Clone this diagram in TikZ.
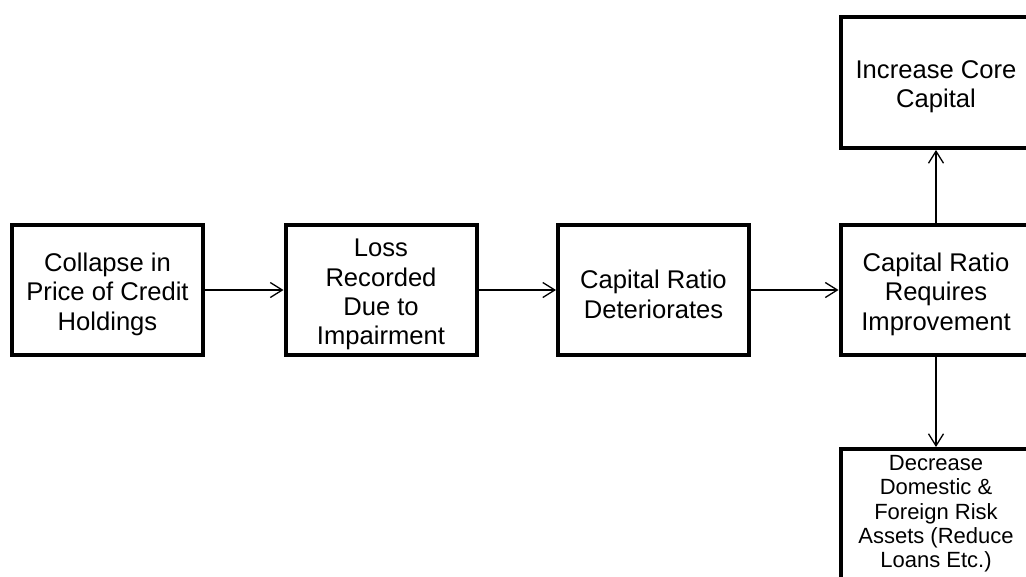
\documentclass[tikz,border=0pt]{standalone}
\usepackage{fontspec}
\setmainfont{Liberation Sans}
\usetikzlibrary{arrows.meta}
% taller first line: lowers the block of text inside its box
\newcommand{\toprule}[1]{\rule{0pt}{#1}}
\begin{document}
\begin{tikzpicture}[x=1pt,y=-1pt,
  stepbox/.style={draw=black, line width=4pt, fill=white, inner sep=0pt,
    minimum width=191pt, minimum height=130pt, align=center,
    font=\fontsize{25.6}{29.3}\selectfont},
  smallbox/.style={stepbox, font=\fontsize{22}{24.3}\selectfont},
  flow/.style={draw=black, line width=1.3pt,
    -{Straight Barb[length=12pt,width=15pt,line width=1.3pt]}}]
\useasboundingbox (0,0) rectangle (1026,576);
\clip (0,0) rectangle (1026,576);
% main chain
\node[stepbox] (collapse) at (107.5,290) {\toprule{27pt}Collapse in\\Price of Credit\\Holdings};
\node[stepbox] (loss) at (381,290) {\toprule{27pt}Loss\\Recorded\\Due to\\Impairment};
\node[stepbox] (deter) at (653.5,290) {\toprule{27pt}Capital Ratio\\Deteriorates};
\node[stepbox] (improve) at (936,290) {\toprule{27pt}Capital Ratio\\Requires\\Improvement};
% responses
\node[stepbox, minimum height=131pt] (core) at (936,82.5) {\toprule{27pt}Increase Core\\Capital};
\node[smallbox] (risk) at (936,514) {Decrease\\Domestic \&\\Foreign Risk\\Assets (Reduce\\Loans Etc.)};
% connectors
\draw[flow] (collapse) -- (loss);
\draw[flow] (loss) -- (deter);
\draw[flow] (deter) -- (improve);
\draw[flow] (improve) -- (core);
\draw[flow] (improve) -- (risk);
\end{tikzpicture}
\end{document}
